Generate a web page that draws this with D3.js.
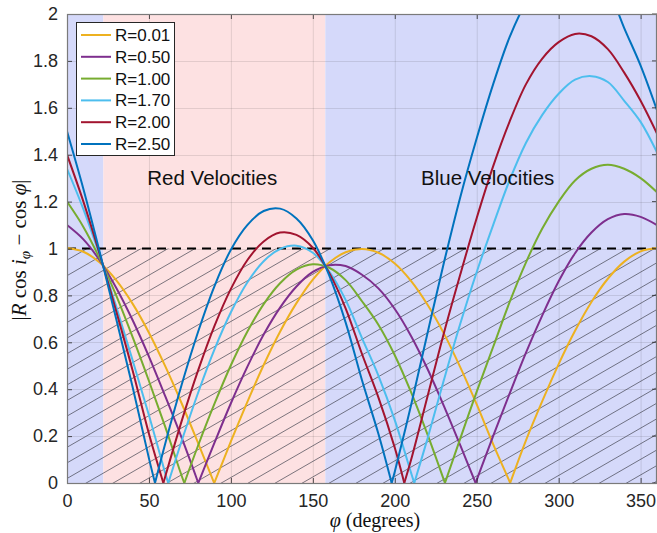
<!DOCTYPE html>
<html><head><meta charset="utf-8">
<script src="https://cdn.jsdelivr.net/npm/d3@7"></script>
<style>body{margin:0;background:#fff}svg{display:block}</style>
</head><body><svg id="c" width="657" height="533"></svg>
<script>
// ---------------- data ----------------
const phiDeg = [0,10,20,30,40,50,60,70,80,90,100,110,120,130,140,150,160,170,180,190,200,210,220,230,240,250,260,270,280,290,300,310,320,330,340,350,360];
const seriesLabels = ["R=0.01","R=0.50","R=1.00","R=1.70","R=2.00","R=2.50"];
const seriesColors = ["#EDB120","#7E2F8E","#77AC30","#4DBEEE","#A2142F","#0072BD"];
const valsR001 = [1.002,0.986,0.940,0.865,0.765,0.641,0.497,0.339,0.170,0.003,0.177,0.345,0.503,0.645,0.767,0.867,0.940,0.984,0.998,0.982,0.936,0.861,0.760,0.637,0.493,0.335,0.166,0.007,0.181,0.349,0.507,0.649,0.772,0.871,0.944,0.988,1.002];
const valsR050 = [1.100,1.039,0.949,0.833,0.695,0.539,0.369,0.192,0.002,0.172,0.340,0.495,0.633,0.748,0.838,0.900,0.929,0.925,0.888,0.830,0.742,0.626,0.486,0.328,0.160,0.013,0.200,0.380,0.555,0.715,0.860,0.980,1.068,1.125,1.147,1.135,1.100];
const valsR100 = [1.200,1.092,0.957,0.800,0.623,0.435,0.238,0.030,0.160,0.338,0.502,0.645,0.763,0.852,0.910,0.933,0.918,0.865,0.775,0.675,0.545,0.386,0.206,0.012,0.190,0.390,0.580,0.770,0.940,1.085,1.200,1.290,1.340,1.357,1.340,1.300,1.240];
const valsR170 = [1.340,1.168,0.970,0.753,0.524,0.289,0.040,0.180,0.385,0.570,0.728,0.855,0.946,0.998,1.012,0.982,0.902,0.781,0.618,0.458,0.268,0.042,0.190,0.440,0.680,0.900,1.100,1.290,1.450,1.570,1.660,1.720,1.735,1.710,1.630,1.540,1.410];
const valsR200 = [1.400,1.200,0.975,0.733,0.481,0.210,0.029,0.265,0.480,0.670,0.828,0.950,1.030,1.068,1.058,1.003,0.896,0.745,0.550,0.365,0.150,0.100,0.370,0.640,0.890,1.130,1.350,1.540,1.700,1.810,1.880,1.915,1.905,1.850,1.750,1.630,1.490];
const valsR250 = [1.500,1.254,0.984,0.700,0.410,0.105,0.170,0.420,0.645,0.840,0.995,1.100,1.160,1.170,1.128,1.035,0.885,0.685,0.438,0.210,0.048,0.334,0.640,0.940,1.220,1.470,1.700,1.900,2.050,2.160,2.230,2.250,2.210,2.110,1.940,1.780,1.590];
const zerosR001 = [89.8, 270.4];
const zerosR050 = [80.1, 249.3];
const zerosR100 = [71.6, 230.6];
const zerosR170 = [61.8, 211.9];
const zerosR200 = [58.8, 205.8];
const zerosR250 = [53.7, 198.1];
const xTicks = [0,50,100,150,200,250,300,350];
const yTicks = [0,0.2,0.4,0.6,0.8,1,1.2,1.4,1.6,1.8,2];
const redRange = [22.2, 157.6];
const hatchLevel = 1;
const regionTexts = [{text:"Red Velocities", phi:49, v:1.27},{text:"Blue Velocities", phi:216, v:1.27}];

const allVals = [valsR001,valsR050,valsR100,valsR170,valsR200,valsR250];
const allZeros = [zerosR001,zerosR050,zerosR100,zerosR170,zerosR200,zerosR250];

// ---------------- drawing ----------------
const L = 67, R = 657, T = 14, B = 483;
const svg = d3.select("#c");
const x = d3.scaleLinear().domain([0,360]).range([L,R]);
const y = d3.scaleLinear().domain([0,2]).range([B,T]);
const sans = "'Liberation Sans', Arial, Helvetica, sans-serif";
const serif = "'Liberation Serif', 'DejaVu Serif', serif";
const axisCol = "#262626";

const defs = svg.append("defs");
defs.append("clipPath").attr("id","plotClip").append("rect")
  .attr("x",L).attr("y",T).attr("width",R-L).attr("height",B-T);
defs.append("clipPath").attr("id","hatchClip").append("rect")
  .attr("x",x(0)).attr("y",y(hatchLevel)).attr("width",x(360)-x(0)).attr("height",y(0)-y(hatchLevel));

// backgrounds
svg.append("rect").attr("x",x(0)).attr("y",y(2)).attr("width",x(redRange[0])-x(0)).attr("height",y(0)-y(2)).attr("fill","#d5d9fa");
svg.append("rect").attr("x",x(redRange[0])).attr("y",y(2)).attr("width",x(redRange[1])-x(redRange[0])).attr("height",y(0)-y(2)).attr("fill","#fde1e2");
svg.append("rect").attr("x",x(redRange[1])).attr("y",y(2)).attr("width",x(360)-x(redRange[1])).attr("height",y(0)-y(2)).attr("fill","#d5d9fa");

// grid
const grid = svg.append("g").attr("stroke",axisCol).attr("stroke-opacity",0.12).attr("stroke-width",1);
xTicks.forEach(t=>grid.append("line").attr("x1",x(t)+0.5).attr("x2",x(t)+0.5).attr("y1",T).attr("y2",B));
yTicks.forEach(t=>grid.append("line").attr("x1",L).attr("x2",R).attr("y1",Math.round(y(t))+0.5).attr("y2",Math.round(y(t))+0.5));

// hatch
const hatch = svg.append("g").attr("clip-path","url(#hatchClip)").attr("stroke","#3d3f4a").attr("stroke-opacity",0.85).attr("stroke-width",0.8);
const tanA = Math.tan(30*Math.PI/180);
const span = x(360)-x(0);
for (let b = y(hatchLevel) - 4; b <= y(0) + tanA*span + 20; b += 15.6) {
  hatch.append("line").attr("x1",x(0)).attr("y1",b).attr("x2",x(360)).attr("y2",b - tanA*span);
}

// dashed level line
svg.append("line").attr("x1",x(0)).attr("x2",x(360)).attr("y1",y(hatchLevel)).attr("y2",y(hatchLevel))
  .attr("stroke","#000").attr("stroke-width",2).attr("stroke-dasharray","9,6");

// curves
const curveG = svg.append("g").attr("clip-path","url(#plotClip)");
const lineGen = d3.line().x(d=>x(d.p)).y(d=>y(d.v)).curve(d3.curveCatmullRom.alpha(0.5));
allVals.forEach((vals,si)=>{
  const pts = phiDeg.map((p,i)=>({p, v: vals[i]}));
  allZeros[si].forEach(z=>pts.push({p:z, v:0, zero:true}));
  pts.sort((a,b)=>a.p-b.p);
  const segs=[]; let cur=[];
  pts.forEach(pt=>{cur.push(pt); if(pt.zero){segs.push(cur); cur=[pt];}});
  segs.push(cur);
  segs.forEach(s=>{
    curveG.append("path").attr("d",lineGen(s)).attr("fill","none")
      .attr("stroke",seriesColors[si]).attr("stroke-width",2).attr("stroke-linejoin","round");
  });
});

// axes
const xAxis = d3.axisBottom(x).tickValues(xTicks).tickSizeInner(-5).tickSizeOuter(0).tickPadding(11).tickFormat(d3.format("d"));
const gx = svg.append("g").attr("transform",`translate(0,${B})`).call(xAxis);
const yAxis = d3.axisLeft(y).tickValues(yTicks).tickSizeInner(-5).tickSizeOuter(0).tickPadding(9).tickFormat(d=>d3.format("~g")(d));
const gy = svg.append("g").attr("transform",`translate(${L},0)`).call(yAxis);
[gx,gy].forEach(g=>{
  g.select(".domain").remove();
  g.selectAll(".tick line").attr("stroke",axisCol).attr("stroke-opacity",0.8);
  g.selectAll(".tick text").attr("fill",axisCol).style("font-family",sans).style("font-size","18px");
});
const mt = svg.append("g").attr("stroke",axisCol).attr("stroke-opacity",0.8);
xTicks.forEach(t=>mt.append("line").attr("x1",x(t)+0.5).attr("x2",x(t)+0.5).attr("y1",T).attr("y2",T+5));
yTicks.forEach(t=>mt.append("line").attr("x1",R-5).attr("x2",R).attr("y1",y(t)).attr("y2",y(t)));
svg.append("rect").attr("x",L+0.5).attr("y",T+0.5).attr("width",R-L-1).attr("height",B-T)
  .attr("fill","none").attr("stroke","#7a7a7a").attr("stroke-width",1.2);

// region labels
regionTexts.forEach(r=>{
  svg.append("text").attr("x",x(r.phi)).attr("y",y(r.v)).text(r.text)
    .style("font-family",sans).style("font-size","20.5px").attr("fill","#111");
});

// legend
const lg = svg.append("g");
lg.append("rect").attr("x",76.5).attr("y",22.5).attr("width",98).attr("height",133)
  .attr("fill","#fff").attr("stroke",axisCol).attr("stroke-width",1);
seriesLabels.forEach((lab,i)=>{
  const yy = 35 + i*21.8;
  lg.append("line").attr("x1",81).attr("x2",111).attr("y1",yy).attr("y2",yy)
    .attr("stroke",seriesColors[i]).attr("stroke-width",2);
  lg.append("text").attr("x",115).attr("y",yy).attr("dy","0.35em").text(lab)
    .style("font-family",sans).style("font-size","17px").attr("fill","#111");
});

// y label
const yl = svg.append("text").attr("transform","translate(26,250) rotate(-90)")
  .attr("text-anchor","middle").style("font-family",serif).style("font-size","21px").attr("fill","#111");
yl.append("tspan").text("|");
yl.append("tspan").attr("font-style","italic").text("R");
yl.append("tspan").text(" cos ");
yl.append("tspan").attr("font-style","italic").text("i");
yl.append("tspan").attr("font-style","italic").attr("font-size","15px").attr("dy","4").text("φ");
yl.append("tspan").attr("dy","-4").text(" − cos ");
yl.append("tspan").attr("font-style","italic").text("φ");
yl.append("tspan").text("|");

// x label
const xl = svg.append("text").attr("x",375).attr("y",527).attr("text-anchor","middle")
  .style("font-family",serif).style("font-size","20px").attr("fill","#111");
xl.append("tspan").attr("font-style","italic").text("φ");
xl.append("tspan").text(" (degrees)");
</script>
</body></html>
